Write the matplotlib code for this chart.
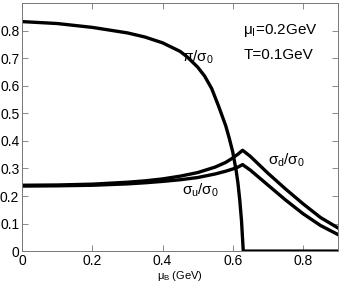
import numpy as np
import matplotlib.pyplot as plt

plt.rcParams['font.family'] = ['Liberation Sans', 'DejaVu Sans']
plt.rcParams['mathtext.fontset'] = 'custom'
plt.rcParams['mathtext.rm'] = 'Liberation Sans'
plt.rcParams['mathtext.it'] = 'Liberation Sans'

# pion condensate pi/sigma0
mu_pi = [0.0, 0.1, 0.2, 0.3, 0.35, 0.4, 0.45, 0.47, 0.5, 0.52, 0.54, 0.56, 0.58, 0.59, 0.60, 0.61, 0.615, 0.62, 0.625, 0.63, 0.9]
pi_val = [0.833, 0.826, 0.812, 0.792, 0.777, 0.756, 0.725, 0.705, 0.668, 0.635, 0.590, 0.525, 0.455, 0.410, 0.360, 0.290, 0.245, 0.185, 0.110, 0.0, 0.0]

# chiral condensates
mu_s = [0.0, 0.1, 0.2, 0.3, 0.35, 0.4, 0.45, 0.5, 0.55, 0.58, 0.60, 0.615, 0.628, 0.65, 0.70, 0.75, 0.80, 0.85, 0.9]
sd_val = [0.239, 0.240, 0.243, 0.250, 0.255, 0.262, 0.272, 0.285, 0.305, 0.322, 0.338, 0.352, 0.366, 0.344, 0.283, 0.226, 0.172, 0.122, 0.084]
su_val = [0.236, 0.237, 0.239, 0.244, 0.248, 0.253, 0.259, 0.267, 0.280, 0.290, 0.298, 0.305, 0.314, 0.294, 0.240, 0.186, 0.136, 0.093, 0.060]

fig = plt.figure(figsize=(3.46, 2.86), dpi=100)
ax = fig.add_axes([0.064, 0.122, 0.913, 0.867])

lw = 2.4
ax.plot(mu_pi, pi_val, color='black', lw=lw)
ax.plot(mu_s, sd_val, color='black', lw=lw)
ax.plot(mu_s, su_val, color='black', lw=lw)

ax.set_xlim(0, 0.9)
ax.set_ylim(0, 0.9)
ax.set_xticks([0, 0.2, 0.4, 0.6, 0.8])
ax.set_xticklabels(['0', '0.2', '0.4', '0.6', '0.8'])
ax.set_yticks([0, 0.1, 0.2, 0.3, 0.4, 0.5, 0.6, 0.7, 0.8])
ax.set_yticklabels(['0', '0.1', '0.2', '0.3', '0.4', '0.5', '0.6', '0.7', '0.8'])
ax.tick_params(direction='in', top=True, right=True, length=4, width=0.6,
               labelsize=10, pad=2, color='#777777')
for s in ax.spines.values():
    s.set_linewidth(0.7)
    s.set_color('#777777')

ax.set_xlabel(r'$\mu_B$ (GeV)', fontsize=8, labelpad=1)

ax.text(0.63, 0.80, r'$\mu_I$=0.2GeV', fontsize=11, va='center')
ax.text(0.63, 0.71, 'T=0.1GeV', fontsize=11, va='center')
ax.text(0.455, 0.705, r'$\pi/\sigma_0$', fontsize=11, va='center')
ax.text(0.70, 0.33, r'$\sigma_d/\sigma_0$', fontsize=11, va='center')
ax.text(0.455, 0.22, r'$\sigma_u/\sigma_0$', fontsize=11, va='center')

fig.savefig('out.png', dpi=100)
